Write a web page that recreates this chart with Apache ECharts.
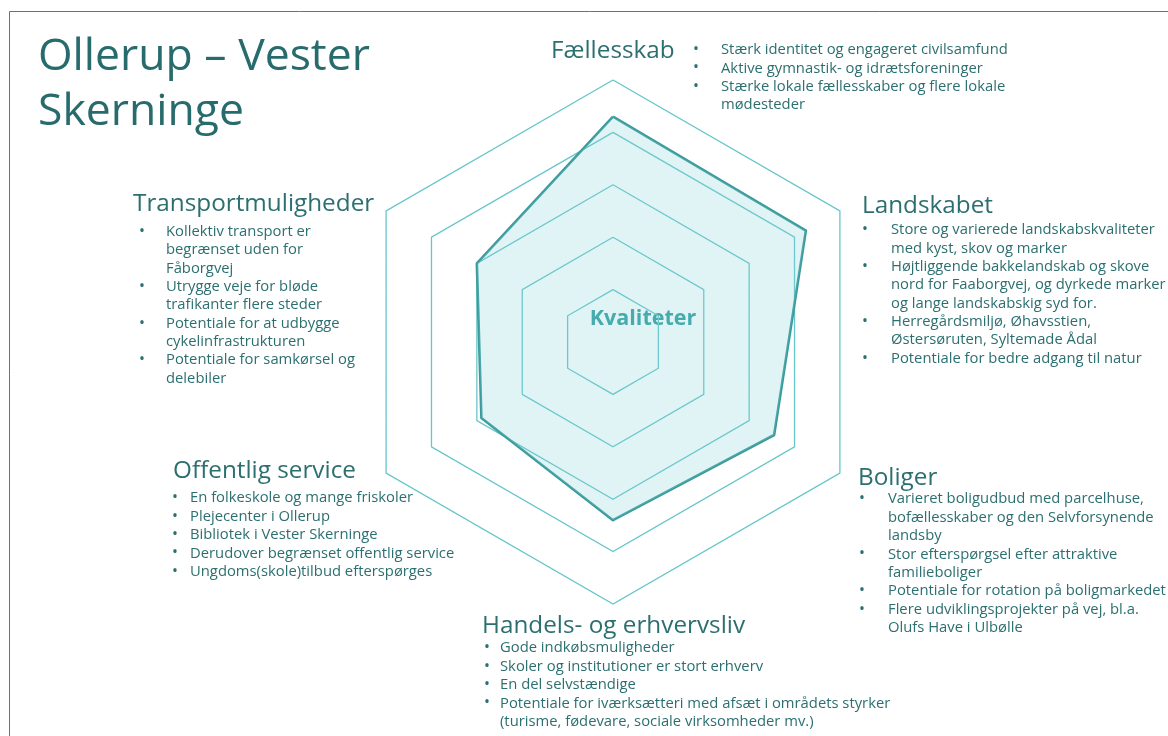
<!DOCTYPE html>
<html>
<head>
<meta charset="utf-8">
<script src="https://cdn.jsdelivr.net/npm/echarts@6/dist/echarts.min.js"></script>
<style>
  html, body { margin: 0; padding: 0; background: #ffffff; }
  #chart { width: 1168px; height: 736px; }
</style>
</head>
<body>
<div id="chart"></div>
<script>
// ---------- DATA ----------
const titleLines = ['Ollerup – Vester', 'Skerninge'];
const centerLabel = 'Kvaliteter';
// indicators in ECharts order (counter-clockwise from top)
const indicators = ['Fællesskab', 'Transportmuligheder', 'Offentlig service', 'Handels- og erhvervsliv', 'Boliger', 'Landskabet'];
const scores = [4.3, 3.0, 2.9, 3.4, 3.55, 4.25];
const scoreMax = 5;

const bulletsFaellesskab = [
  ['Stærk identitet og engageret civilsamfund'],
  ['Aktive gymnastik- og idrætsforeninger'],
  ['Stærke lokale fællesskaber og flere lokale', 'mødesteder']
];
const bulletsLandskabet = [
  ['Store og varierede landskabskvaliteter', 'med kyst, skov og marker'],
  ['Højtliggende bakkelandskab og skove', 'nord for Faaborgvej, og dyrkede marker', 'og lange landskabskig syd for.'],
  ['Herregårdsmiljø, Øhavsstien,', 'Østersøruten, Syltemade Ådal'],
  ['Potentiale for bedre adgang til natur']
];
const bulletsBoliger = [
  ['Varieret boligudbud med parcelhuse,', 'bofællesskaber og den Selvforsynende', 'landsby'],
  ['Stor efterspørgsel efter attraktive', 'familieboliger'],
  ['Potentiale for rotation på boligmarkedet'],
  ['Flere udviklingsprojekter på vej, bl.a.', 'Olufs Have i Ulbølle']
];
const bulletsHandel = [
  ['Gode indkøbsmuligheder'],
  ['Skoler og institutioner er stort erhverv'],
  ['En del selvstændige'],
  ['Potentiale for iværksætteri med afsæt i områdets styrker', '(turisme, fødevare, sociale virksomheder mv.)']
];
const bulletsOffentlig = [
  ['En folkeskole og mange friskoler'],
  ['Plejecenter i Ollerup'],
  ['Bibliotek i Vester Skerninge'],
  ['Derudover begrænset offentlig service'],
  ['Ungdoms(skole)tilbud efterspørges']
];
const bulletsTransport = [
  ['Kollektiv transport er', 'begrænset uden for', 'Fåborgvej'],
  ['Utrygge veje for bløde', 'trafikanter flere steder'],
  ['Potentiale for at udbygge', 'cykelinfrastrukturen'],
  ['Potentiale for samkørsel og', 'delebiler']
];

// ---------- LAYOUT ----------
const FONT = '"Open Sans", "Noto Sans", sans-serif';
const TEXT_COLOR = '#2c6f70';
const HEAD_SIZE = 24.3;
const BODY_SIZE = 14.8;
const LINE_H = 18.35;

const blocks = [
  { head: indicators[0], hx: 551, hb: 59, bx: 693, tx: 721, fb: 55, items: bulletsFaellesskab },
  { head: indicators[5], hx: 862, hb: 214, bx: 862, tx: 891, fb: 235, items: bulletsLandskabet },
  { head: indicators[4], hx: 858, hb: 486, bx: 859, tx: 888, fb: 504.3, items: bulletsBoliger },
  { head: indicators[3], hx: 482, hb: 634, bx: 484, tx: 500, fb: 653.3, items: bulletsHandel },
  { head: indicators[2], hx: 173, hb: 479, bx: 172, tx: 190, fb: 503.3, items: bulletsOffentlig },
  { head: indicators[1], hx: 133, hb: 212.7, bx: 139, tx: 166, fb: 236.7, items: bulletsTransport }
];

function txt(x, yBase, s, size, opts) {
  opts = opts || {};
  return {
    type: 'text',
    x: x,
    y: yBase - size * 0.34,
    silent: true,
    style: {
      text: s,
      font: (opts.weight || 'normal') + ' ' + size + 'px ' + FONT,
      fill: opts.color || TEXT_COLOR,
      align: opts.align || 'left',
      verticalAlign: 'middle'
    }
  };
}

const graphics = [];
// slide frame
graphics.push({
  type: 'rect', silent: true,
  shape: { x: 9.5, y: 11.5, width: 1400, height: 1000 },
  style: { fill: 'none', stroke: '#4d7f80', lineWidth: 1 }
});
// title
graphics.push(txt(38, 72, titleLines[0], 44.5, { color: '#276b6c' }));
graphics.push(txt(38, 127, titleLines[1], 44.5, { color: '#276b6c' }));
// center label
graphics.push(txt(643, 326, centerLabel, 21.5, { weight: 'bold', color: '#33a0a1', align: 'center' }));

blocks.forEach(function (b) {
  graphics.push(txt(b.hx, b.hb, b.head, HEAD_SIZE));
  let line = 0;
  b.items.forEach(function (item) {
    item.forEach(function (l, i) {
      const yb = b.fb + line * LINE_H;
      if (i === 0) graphics.push(txt(b.bx, yb, '•', BODY_SIZE + 1));
      graphics.push(txt(b.tx, yb, l, BODY_SIZE));
      line++;
    });
  });
});

const chart = echarts.init(document.getElementById('chart'), null, { renderer: 'canvas' });
chart.setOption({
  animation: false,
  backgroundColor: '#ffffff',
  radar: {
    center: [613, 342],
    radius: 262,
    startAngle: 90,
    splitNumber: 5,
    shape: 'polygon',
    indicator: indicators.map(function (n) { return { name: n, min: 0, max: scoreMax }; }),
    axisName: { show: false },
    axisLine: { show: false },
    axisTick: { show: false },
    axisLabel: { show: false },
    splitArea: { show: false },
    splitLine: { lineStyle: { color: '#66c6ca', width: 1.3 } }
  },
  series: [{
    type: 'radar',
    symbol: 'none',
    silent: true,
    lineStyle: { color: '#3a9a9b', width: 2.6 },
    areaStyle: { color: 'rgba(130,208,212,0.34)' },
    data: [{ value: scores, name: centerLabel }]
  }],
  graphic: graphics
});
</script>
</body>
</html>
